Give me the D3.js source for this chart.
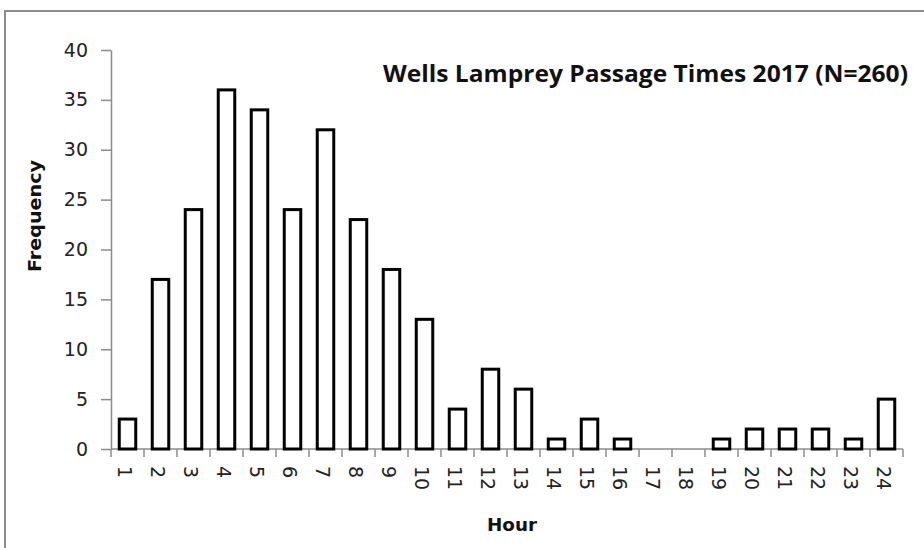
<!DOCTYPE html>
<html>
<head>
<meta charset="utf-8">
<script src="https://cdn.jsdelivr.net/npm/d3@7"></script>
<style>
  html, body { margin: 0; padding: 0; background: #fff; }
  svg { display: block; }
</style>
</head>
<body>
<svg id="chart" width="924" height="548"></svg>
<script>
const hours = ["1","2","3","4","5","6","7","8","9","10","11","12","13","14","15","16","17","18","19","20","21","22","23","24"];
const frequency = [3,17,24,36,34,24,32,23,18,13,4,8,6,1,3,1,0,0,1,2,2,2,1,5];
const yTicks = [0,5,10,15,20,25,30,35,40];
const titleText = "Wells Lamprey Passage Times 2017  (N=260)";
const xLabel = "Hour";
const yLabel = "Frequency";

(function () {
const svg = d3.select("#chart");
const plotL = 111, plotR = 903, plotT = 50, plotB = 449;
const tickFont = "DejaVu Sans, Verdana, sans-serif";

// outer frame (cropped chart border)
svg.append("rect")
  .attr("x", 5).attr("y", 11)
  .attr("width", 940).attr("height", 560)
  .attr("fill", "#fff")
  .attr("stroke", "#8c8c8c")
  .attr("stroke-width", 2);

const x = d3.scaleBand().domain(hours).range([plotL, plotR]).paddingInner(0.5).paddingOuter(0.25);
const y = d3.scaleLinear().domain([0, 40]).range([plotB, plotT]);

// Y axis
const yAxis = svg.append("g")
  .attr("transform", `translate(${plotL},0)`)
  .call(d3.axisLeft(y).tickValues(yTicks).tickSize(10).tickPadding(13).tickSizeOuter(0));
yAxis.select(".domain").attr("stroke", "#8c8c8c").attr("stroke-width", 1.5);
yAxis.selectAll(".tick line").attr("stroke", "#8c8c8c").attr("stroke-width", 1.5);
yAxis.selectAll(".tick text")
  .attr("font-family", tickFont)
  .attr("font-size", 19)
  .attr("fill", "#222");

// X axis: ticks at band boundaries
const bandEdges = hours.map((h, i) => plotL + i * x.step()).concat([plotR]);
const xg = svg.append("g");
xg.append("line")
  .attr("x1", plotL).attr("x2", plotR)
  .attr("y1", plotB).attr("y2", plotB)
  .attr("stroke", "#8c8c8c").attr("stroke-width", 1.5);
xg.selectAll("line.tk").data(bandEdges).enter().append("line")
  .attr("class", "tk")
  .attr("x1", d => d).attr("x2", d => d)
  .attr("y1", plotB).attr("y2", plotB + 8)
  .attr("stroke", "#8c8c8c").attr("stroke-width", 1.5);
xg.selectAll("text").data(hours).enter().append("text")
  .attr("transform", d => `translate(${x(d) + x.bandwidth() / 2},${plotB + 17}) rotate(90)`)
  .attr("dy", "0.5em")
  .attr("text-anchor", "start")
  .attr("font-family", tickFont)
  .attr("font-size", 19)
  .attr("fill", "#222")
  .text(d => d);

// Bars
svg.append("g").selectAll("rect").data(hours).enter().append("rect")
  .attr("x", d => x(d))
  .attr("y", (d, i) => y(frequency[i]))
  .attr("width", x.bandwidth())
  .attr("height", (d, i) => y(0) - y(frequency[i]))
  .attr("fill", "#fff")
  .attr("stroke", "#000")
  .attr("stroke-width", 3);

// Title
svg.append("text")
  .attr("x", 383).attr("y", 82)
  .attr("font-family", "Open Sans, sans-serif")
  .attr("font-weight", "bold")
  .attr("font-size", 23)
  .attr("textLength", 525)
  .attr("lengthAdjust", "spacingAndGlyphs")
  .attr("fill", "#111")
  .text(titleText);

// Axis titles
svg.append("text")
  .attr("x", 512).attr("y", 531)
  .attr("text-anchor", "middle")
  .attr("font-family", tickFont)
  .attr("font-weight", "bold")
  .attr("font-size", 18)
  .attr("textLength", 50)
  .attr("lengthAdjust", "spacingAndGlyphs")
  .attr("fill", "#111")
  .text(xLabel);

svg.append("text")
  .attr("transform", "translate(41,216) rotate(-90)")
  .attr("text-anchor", "middle")
  .attr("font-family", tickFont)
  .attr("font-weight", "bold")
  .attr("font-size", 18)
  .attr("textLength", 112)
  .attr("lengthAdjust", "spacingAndGlyphs")
  .attr("fill", "#111")
  .text(yLabel);
})();
</script>
</body>
</html>
